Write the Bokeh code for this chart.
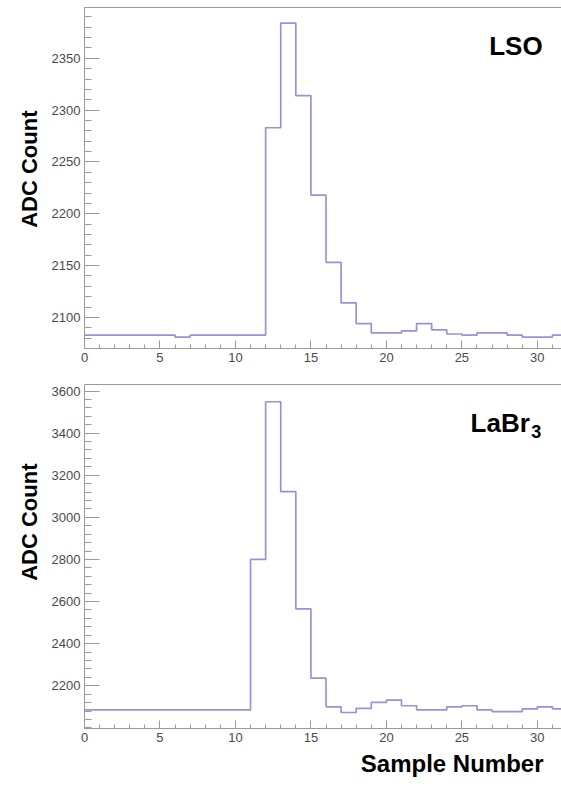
import math
from bokeh.plotting import figure
from bokeh.layouts import column
from bokeh.models import FixedTicker, LinearAxis, Label, Range1d, Title
from bokeh.embed import file_html
from bokeh.resources import INLINE

# ---- data ----
sample_edges = list(range(33))  # bin edges 0..32
lso_counts = [2083, 2083, 2083, 2083, 2083, 2083, 2081, 2083, 2083, 2083,
              2083, 2083, 2283, 2384, 2314, 2218, 2153, 2114, 2094, 2085,
              2085, 2087, 2094, 2088, 2084, 2083, 2085, 2085, 2083, 2081,
              2081, 2083]
labr_counts = [2085, 2085, 2085, 2085, 2085, 2085, 2085, 2085, 2085, 2085,
               2085, 2800, 3549, 3122, 2565, 2236, 2100, 2073, 2093, 2121,
               2132, 2105, 2085, 2085, 2100, 2105, 2085, 2077, 2077, 2090,
               2100, 2090]
lso_major = [2100, 2150, 2200, 2250, 2300, 2350]
labr_major = [2200, 2400, 2600, 2800, 3000, 3200, 3400, 3600]

LINE = "#9494dc"
AX = "#9a9a9a"
TXT = "#4a4a4a"
FONT = "Liberation Sans"


def make_panel(counts, yr, major, minor_step, height, b_top, b_bottom, ylab_offset):
    p = figure(width=561, height=height, output_backend="svg", toolbar_location=None,
               x_range=Range1d(0, 31.6), y_range=Range1d(*yr),
               min_border_left=84, min_border_right=0,
               min_border_top=b_top, min_border_bottom=b_bottom)
    p.grid.visible = False
    p.outline_line_color = None
    p.background_fill_color = "white"
    ys = counts + [counts[-1]]
    p.step(sample_edges, ys, mode="after", line_color=LINE, line_width=1.7)

    xa = p.xaxis[0]
    xa.ticker = FixedTicker(ticks=[0, 5, 10, 15, 20, 25, 30],
                            minor_ticks=list(range(0, 32)))
    ya = p.yaxis[0]
    lo = math.ceil(yr[0] / minor_step) * minor_step
    ya.ticker = FixedTicker(ticks=major,
                            minor_ticks=list(range(int(lo), int(yr[1]) + 1, minor_step)))
    for ax in (xa, ya):
        ax.axis_line_color = AX
        ax.major_tick_line_color = AX
        ax.minor_tick_line_color = AX
        ax.major_tick_out = 0
        ax.minor_tick_out = 0
        ax.major_label_text_font = FONT
        ax.major_label_text_font_size = "13px"
        ax.major_label_text_color = TXT
    xa.major_tick_in = 8
    xa.minor_tick_in = 4
    xa.major_label_standoff = 4
    ya.major_tick_in = 15
    ya.minor_tick_in = 7
    ya.major_label_standoff = 4

    top = LinearAxis(ticker=FixedTicker(ticks=[]), axis_line_color=AX,
                     major_tick_out=0, minor_tick_out=0, major_tick_in=0, minor_tick_in=0,
                     major_label_standoff=0, major_label_text_font_size="0px")
    p.add_layout(top, "above")

    p.add_layout(Title(text="ADC Count", align="right", offset=ylab_offset,
                       text_font=FONT, text_font_style="bold",
                       text_font_size="22px", text_color="black", standoff=14), "left")
    return p


top = make_panel(lso_counts, (2070, 2399), lso_major, 10, 380, 7, 32, 103)
top.add_layout(Label(x=30.35, y=2362, text="LSO", text_align="right",
                     text_baseline="alphabetic", text_font=FONT,
                     text_font_style="bold", text_font_size="26px", text_color="black"))

bot = make_panel(labr_counts, (1997, 3631), labr_major, 40, 407, 4, 59, 79)
bot.add_layout(Label(x=29.5, y=3450, text="LaBr", text_align="right",
                     text_baseline="alphabetic", text_font=FONT,
                     text_font_style="bold", text_font_size="26px", text_color="black"))
bot.add_layout(Label(x=29.6, y=3408, text="3", text_align="left",
                     text_baseline="alphabetic", text_font=FONT,
                     text_font_style="bold", text_font_size="18px", text_color="black"))
bot.add_layout(Title(text="Sample Number", align="right", offset=18,
                     text_font=FONT, text_font_style="bold",
                     text_font_size="24px", text_color="black", standoff=6), "below")

layout = column(top, bot, spacing=0)
open("out.html", "w").write(file_html(layout, INLINE))
